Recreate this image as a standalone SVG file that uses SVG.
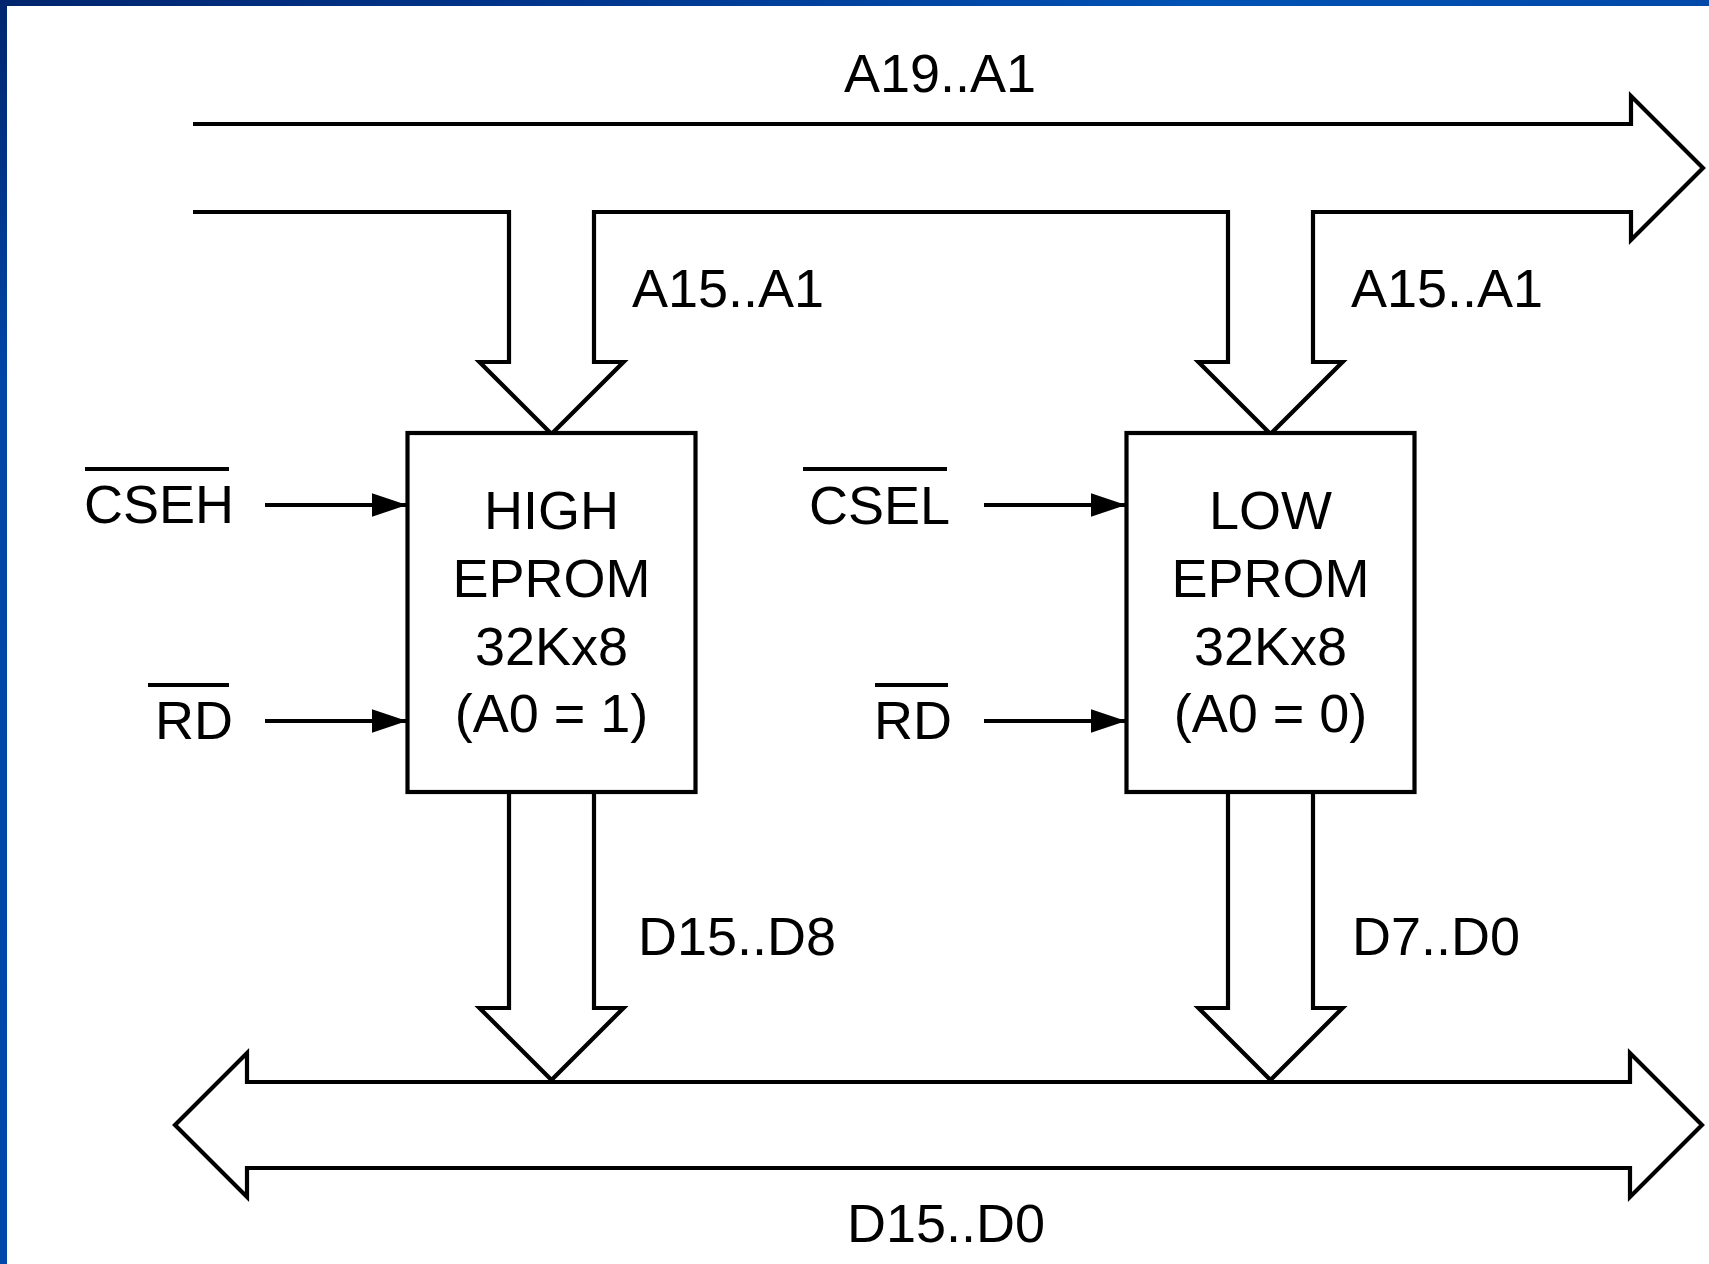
<svg xmlns="http://www.w3.org/2000/svg" width="1709" height="1264" viewBox="0 0 1709 1264">
<style>
.ln{fill:none;stroke:#000;stroke-width:4.2;stroke-linejoin:miter}
.bx{fill:#fff;stroke:#000;stroke-width:4.2}
.t{font-family:"Liberation Sans",Arial,sans-serif;font-size:54px;fill:#000}
.m{text-anchor:middle}
.e{text-anchor:end}
.ov{stroke:#000;stroke-width:4}
.sig{stroke:#000;stroke-width:4.2;fill:none;marker-end:url(#ah)}
</style>
<defs>
<linearGradient id="gt" x1="0" y1="0" x2="1" y2="0">
<stop offset="0" stop-color="#00256e"/>
<stop offset="0.35" stop-color="#00378f"/>
<stop offset="0.7" stop-color="#0052b4"/>
<stop offset="1" stop-color="#0049a8"/>
</linearGradient>
<linearGradient id="gl" x1="0" y1="0" x2="0" y2="1">
<stop offset="0" stop-color="#00256e"/>
<stop offset="0.3" stop-color="#0046a6"/>
<stop offset="1" stop-color="#0048aa"/>
</linearGradient>
<marker id="ah" markerUnits="userSpaceOnUse" markerWidth="36" markerHeight="24" refX="35" refY="11.7" orient="auto">
<path d="M0,0 L35,11.7 L0,23.4 z" fill="#000"/>
</marker>
</defs>
<rect x="0" y="0" width="1709" height="1264" fill="#fff"/>
<rect x="0" y="0" width="1709" height="6" fill="url(#gt)"/>
<rect x="0" y="0" width="7" height="1264" fill="url(#gl)"/>

<g id="connectors">
<path class="ln" d="M193,124 H1631 V96 L1703,168 L1631,240 V212 H1313 V362 H1342.5 L1270.5,434 L1198.5,362 H1228 V212 H594 V362 H623.5 L551.5,434 L479.5,362 H509 V212 H193"/>
<path class="ln" d="M509,792 V1008 H479.5 L551.5,1080 L623.5,1008 H594 V792"/>
<path class="ln" d="M1228,792 V1008 H1198.5 L1270.5,1080 L1342.5,1008 H1313 V792"/>
<path class="ln" d="M247,1082 H1630 V1053 L1702,1125 L1630,1197 V1168 H247 V1197 L175,1125 L247,1053 Z"/>
<line class="sig" x1="265" y1="505" x2="407" y2="505"/>
<line class="sig" x1="265" y1="721" x2="407" y2="721"/>
<line class="sig" x1="984" y1="505" x2="1126" y2="505"/>
<line class="sig" x1="984" y1="721" x2="1126" y2="721"/>
</g>

<g id="bus-labels">
<text class="t m" x="940" y="92">A19..A1</text>
<text class="t" x="632" y="307">A15..A1</text>
<text class="t" x="1351" y="307">A15..A1</text>
<text class="t" x="638" y="955">D15..D8</text>
<text class="t" x="1352" y="955">D7..D0</text>
<text class="t m" x="946" y="1242">D15..D0</text>
</g>

<g id="sig-cseh">
<text class="t e" x="234" y="523">CSEH</text>
<line class="ov" x1="85" y1="469" x2="229" y2="469"/>
</g>
<g id="sig-rd-high">
<text class="t e" x="233" y="739">RD</text>
<line class="ov" x1="148" y1="685" x2="229" y2="685"/>
</g>
<g id="sig-csel">
<text class="t e" x="950" y="524">CSEL</text>
<line class="ov" x1="803" y1="469" x2="947" y2="469"/>
</g>
<g id="sig-rd-low">
<text class="t e" x="952" y="739">RD</text>
<line class="ov" x1="875" y1="685" x2="948" y2="685"/>
</g>

<g id="high-eprom">
<rect class="bx" x="407.5" y="433" width="288" height="359"/>
<text class="t m" x="551.5" y="529">HIGH</text>
<text class="t m" x="551.5" y="597">EPROM</text>
<text class="t m" x="551.5" y="665">32Kx8</text>
<text class="t m" x="551.5" y="732">(A0 = 1)</text>
</g>
<g id="low-eprom">
<rect class="bx" x="1126.5" y="433" width="288" height="359"/>
<text class="t m" x="1270.5" y="529">LOW</text>
<text class="t m" x="1270.5" y="597">EPROM</text>
<text class="t m" x="1270.5" y="665">32Kx8</text>
<text class="t m" x="1270.5" y="732">(A0 = 0)</text>
</g>
</svg>
